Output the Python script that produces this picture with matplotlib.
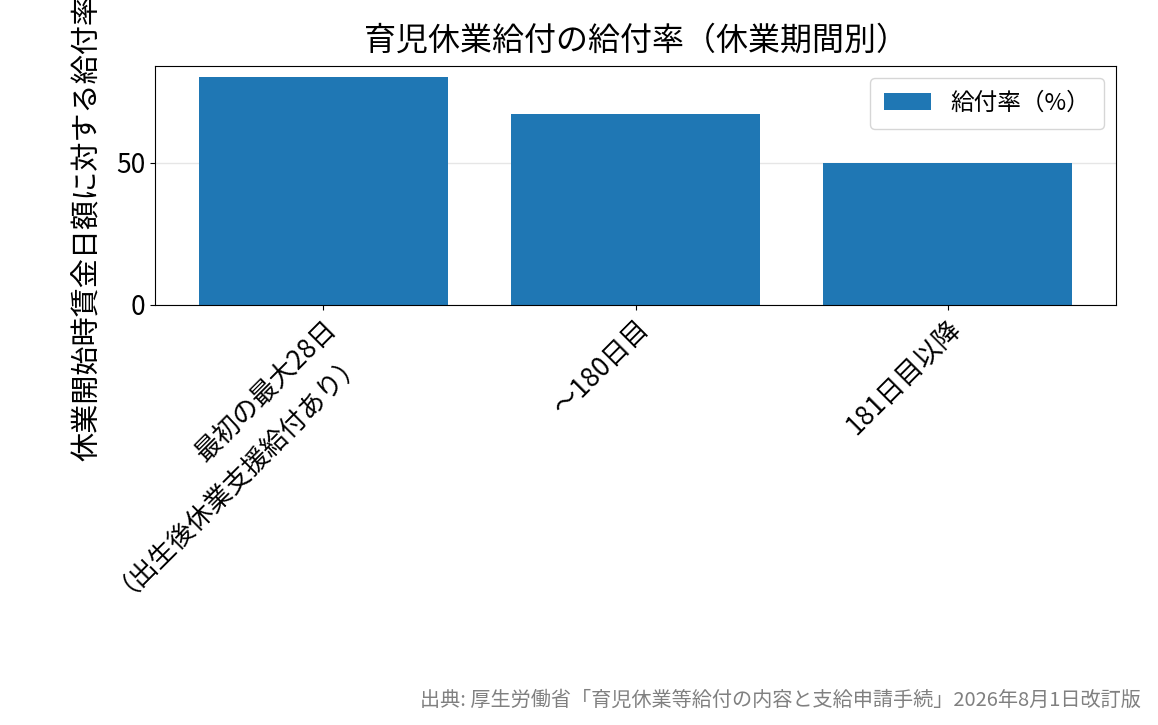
import matplotlib
matplotlib.use('Agg')
import matplotlib.pyplot as plt

plt.rcParams['font.family'] = ['Noto Sans CJK JP', 'DejaVu Sans']

categories = ['最初の最大28日\n（出生後休業支援給付あり）', '～180日目', '181日目以降']
rates = [80, 67, 50]

fig = plt.figure(figsize=(11.58, 7.25), dpi=100)
ax = fig.add_axes([155 / 1158, 1 - 305 / 725, (1116 - 155) / 1158, (305 - 66) / 725])

ax.bar(categories, rates, color='#1f77b4', label='給付率（%）', width=0.8, zorder=2)
ax.set_ylim(0, 84)
ax.set_yticks([0, 50])
ax.yaxis.grid(True, color='#e6e6e6', linewidth=1, zorder=0)
ax.set_axisbelow(True)
ax.tick_params(axis='both', labelsize=19)
plt.setp(ax.get_xticklabels(), rotation=45, ha='right', rotation_mode='anchor')
ax.set_ylabel('休業開始時賃金日額に対する給付率（%）', fontsize=21, labelpad=10)
ax.set_title('育児休業給付の給付率（休業期間別）', fontsize=23, pad=12)
ax.legend(loc='upper right', fontsize=17, borderpad=0.6)

fig.text(0.985, 0.02, '出典: 厚生労働省「育児休業等給付の内容と支給申請手続」2026年8月1日改訂版',
         ha='right', va='bottom', fontsize=14.5, color='gray')

fig.savefig('out.png', dpi=100)
